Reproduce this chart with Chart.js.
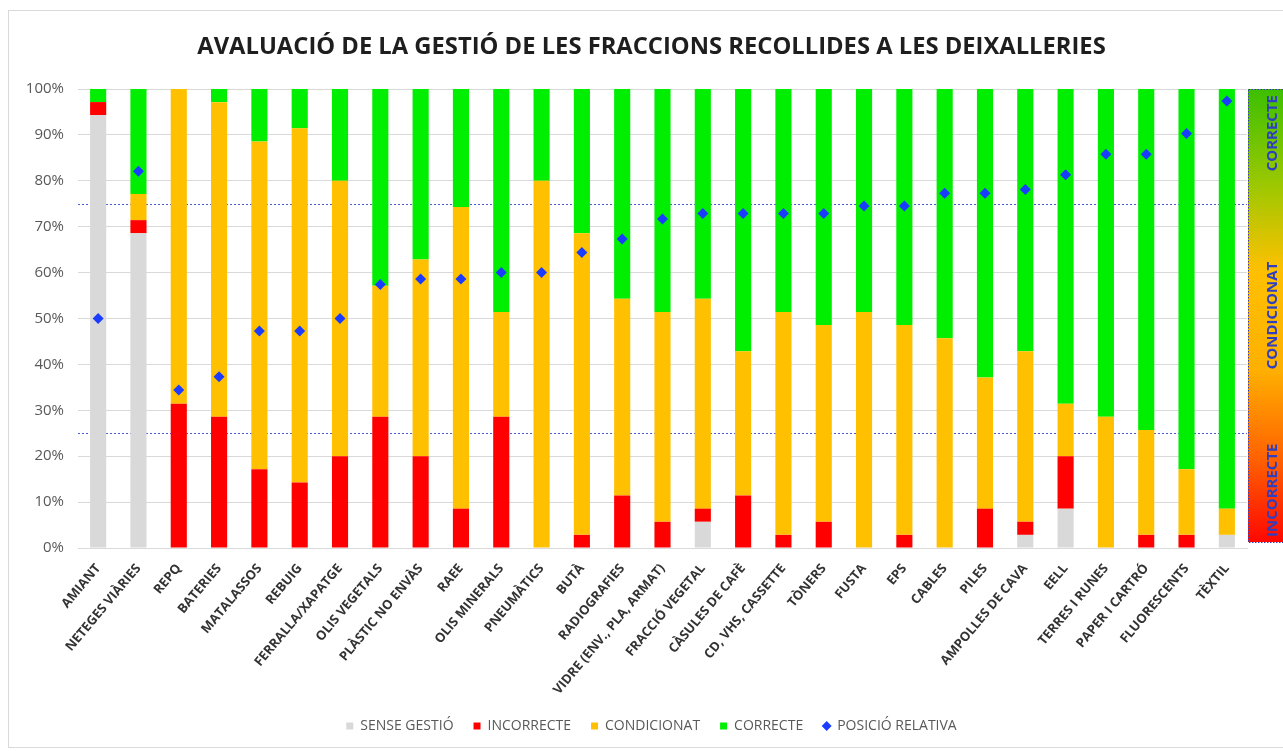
<!DOCTYPE html>
<html>
<head>
<meta charset="utf-8">
<script src="https://cdn.jsdelivr.net/npm/chart.js@4.4.1/dist/chart.umd.min.js"></script>
<style>
  html, body { margin: 0; padding: 0; background: #fff; }
  canvas { display: block; }
</style>
</head>
<body>
<canvas id="chart" width="1283" height="751"></canvas>
<script>
const titleText = 'AVALUACIÓ DE LA GESTIÓ DE LES FRACCIONS RECOLLIDES A LES DEIXALLERIES';

const categories = [
  'AMIANT', 'NETEGES VIÀRIES', 'REPQ', 'BATERIES', 'MATALASSOS', 'REBUIG',
  'FERRALLA/XAPATGE', 'OLIS VEGETALS', 'PLÀSTIC NO ENVÀS', 'RAEE', 'OLIS MINERALS',
  'PNEUMÀTICS', 'BUTÀ', 'RADIOGRAFIES', 'VIDRE (ENV., PLA, ARMAT)', 'FRACCIÓ VEGETAL',
  'CÀSULES DE CAFÈ', 'CD, VHS, CASSETTE', 'TÒNERS', 'FUSTA', 'EPS', 'CABLES', 'PILES',
  'AMPOLLES DE CAVA', 'EELL', 'TERRES I RUNES', 'PAPER I CARTRÓ', 'FLUORESCENTS', 'TÈXTIL'
];

// percentatges de cada fracció (%)
const senseGestio = [94.29, 68.57, 0, 0, 0, 0, 0, 0, 0, 0, 0, 0, 0, 0, 0, 5.71, 0, 0, 0, 0, 0, 0, 0, 2.86, 8.57, 0, 0, 0, 2.86];
const incorrecte = [2.86, 2.86, 31.43, 28.57, 17.14, 14.29, 20, 28.57, 20, 8.57, 28.57, 0, 2.86, 11.43, 5.71, 2.86, 11.43, 2.86, 5.71, 0, 2.86, 0, 8.57, 2.86, 11.43, 0, 2.86, 2.86, 0];
const condicionat = [0, 5.71, 68.57, 68.57, 71.43, 77.14, 60, 28.57, 42.86, 65.71, 22.86, 80, 65.71, 42.86, 45.71, 45.71, 31.43, 48.57, 42.86, 51.43, 45.71, 45.71, 28.57, 37.14, 11.43, 28.57, 22.86, 14.29, 5.71];
const correcte = [2.86, 22.86, 0, 2.86, 11.43, 8.57, 20, 42.86, 37.14, 25.71, 48.57, 20, 31.43, 45.71, 48.57, 45.71, 57.14, 48.57, 51.43, 48.57, 51.43, 54.29, 62.86, 57.14, 68.57, 71.43, 74.29, 82.86, 91.43];
const posicioRelativa = [50, 82.1, 34.4, 37.3, 47.3, 47.3, 50, 57.4, 58.6, 58.6, 60, 60, 64.4, 67.3, 71.7, 72.9, 72.9, 72.9, 72.9, 74.5, 74.5, 77.3, 77.3, 78.1, 81.3, 85.8, 85.8, 90.3, 97.4];

const thresholds = [25, 75];
const zoneLabels = ['CORRECTE', 'CONDICIONAT', 'INCORRECTE'];

const FONT = '"Open Sans", "DejaVu Sans", sans-serif';

// ajusta la mida del títol a l'amplada de l'original
const mctx = document.createElement('canvas').getContext('2d');
mctx.font = 'bold 20px ' + FONT;
const titleSize = 20 * 909 / mctx.measureText(titleText).width;

const zonesPlugin = {
  id: 'zones',
  beforeDraw(chart) {
    const { ctx, width, height } = chart;
    ctx.save();
    ctx.fillStyle = '#fff';
    ctx.fillRect(0, 0, width, height);
    ctx.strokeStyle = '#d9d9d9';
    ctx.lineWidth = 1;
    ctx.strokeRect(8.5, 10.5, width + 10, height - 14);
    ctx.restore();
  },
  beforeDatasetsDraw(chart) {
    const { ctx, chartArea, scales: { y } } = chart;
    ctx.save();
    ctx.strokeStyle = '#4a5bd6';
    ctx.lineWidth = 1;
    ctx.setLineDash([2, 2]);
    thresholds.forEach((t) => {
      const py = Math.round(y.getPixelForValue(t)) + 0.5;
      ctx.beginPath();
      ctx.moveTo(chartArea.left, py);
      ctx.lineTo(chartArea.right, py);
      ctx.stroke();
    });
    ctx.restore();
  },
  afterDraw(chart) {
    const { ctx, chartArea, width } = chart;
    const x0 = chartArea.right + 1;
    const top = chartArea.top;
    const bottom = chartArea.bottom - 6;
    ctx.save();
    const g = ctx.createLinearGradient(0, top, 0, bottom);
    g.addColorStop(0, '#3cbf00');
    g.addColorStop(0.22, '#a0c800');
    g.addColorStop(0.4, '#ffc000');
    g.addColorStop(0.62, '#ffb000');
    g.addColorStop(0.82, '#ff6000');
    g.addColorStop(1, '#ff0800');
    ctx.fillStyle = g;
    ctx.fillRect(x0, top, width - x0 + 5, bottom - top);
    ctx.strokeStyle = '#3a3ab0';
    ctx.setLineDash([1.5, 1.5]);
    ctx.strokeRect(x0 + 0.5, top + 0.5, width - x0 + 5, bottom - top);
    ctx.setLineDash([]);

    ctx.fillStyle = '#2f3fbf';
    ctx.font = 'bold 15px ' + FONT;
    ctx.textBaseline = 'middle';
    const cx = x0 + 25;
    const spots = [
      { text: zoneLabels[0], y: top + 6, align: 'right' },
      { text: zoneLabels[1], y: (top + bottom) / 2, align: 'center' },
      { text: zoneLabels[2], y: bottom - 5, align: 'left' }
    ];
    spots.forEach((s) => {
      ctx.save();
      ctx.translate(cx, s.y);
      ctx.rotate(-Math.PI / 2);
      ctx.textAlign = s.align;
      ctx.fillText(s.text, 0, 0);
      ctx.restore();
    });
    ctx.restore();
  }
};

const barBase = { type: 'bar', stack: 'gestio', barPercentage: 0.4, categoryPercentage: 1, pointStyle: 'rect', order: 1 };

new Chart(document.getElementById('chart'), {
  data: {
    labels: categories,
    datasets: [
      { ...barBase, label: 'SENSE GESTIÓ', data: senseGestio, backgroundColor: '#d9d9d9' },
      { ...barBase, label: 'INCORRECTE', data: incorrecte, backgroundColor: '#ff0000' },
      { ...barBase, label: 'CONDICIONAT', data: condicionat, backgroundColor: '#ffc000' },
      { ...barBase, label: 'CORRECTE', data: correcte, backgroundColor: '#00ee00' },
      {
        type: 'line', label: 'POSICIÓ RELATIVA', data: posicioRelativa, stack: 'pos', order: 0,
        showLine: false, pointStyle: 'rectRot', pointRadius: 5.5, pointHoverRadius: 5.5,
        backgroundColor: '#1a3cff', borderColor: '#1a3cff', borderWidth: 0
      }
    ]
  },
  options: {
    responsive: false,
    animation: false,
    devicePixelRatio: 1,
    layout: { padding: { top: 0, left: 20, right: 0, bottom: 8 } },
    plugins: {
      title: {
        display: true,
        text: titleText,
        color: '#1e1e1e',
        font: { family: FONT, size: titleSize, weight: 'bold', lineHeight: 1 },
        padding: { top: 47 - titleSize / 2, bottom: 42 - titleSize / 2 }
      },
      legend: {
        position: 'bottom',
        labels: {
          usePointStyle: true,
          boxWidth: 7,
          boxHeight: 7,
          padding: 20,
          color: '#595959',
          font: { family: FONT, size: 14 },
          sort: (a, b) => a.datasetIndex - b.datasetIndex
        }
      },
      tooltip: { enabled: false }
    },
    scales: {
      x: {
        stacked: true,
        grid: { display: false, drawTicks: false },
        border: { color: '#d9d9d9' },
        ticks: {
          autoSkip: false, maxRotation: 50, minRotation: 50, padding: 13,
          color: '#333333',
          font: { family: FONT, size: 13, weight: 'bold' }
        },
        afterFit(scale) { scale.height = 151; }
      },
      y: {
        stacked: true,
        min: 0, max: 100,
        grid: { color: '#d9d9d9', drawTicks: false },
        border: { display: false },
        ticks: {
          stepSize: 10, padding: 14,
          color: '#595959',
          font: { family: FONT, size: 15 },
          callback: (v) => v + '%'
        },
        afterFit(scale) { scale.width = 58; }
      },
      // eix buit a la dreta: deixa lloc per a la barra de zones
      zona: {
        position: 'right',
        grid: { display: false, drawTicks: false },
        border: { display: false },
        ticks: { display: false },
        afterFit(scale) { scale.width = 36; }
      }
    }
  },
  plugins: [zonesPlugin]
});
</script>
</body>
</html>
